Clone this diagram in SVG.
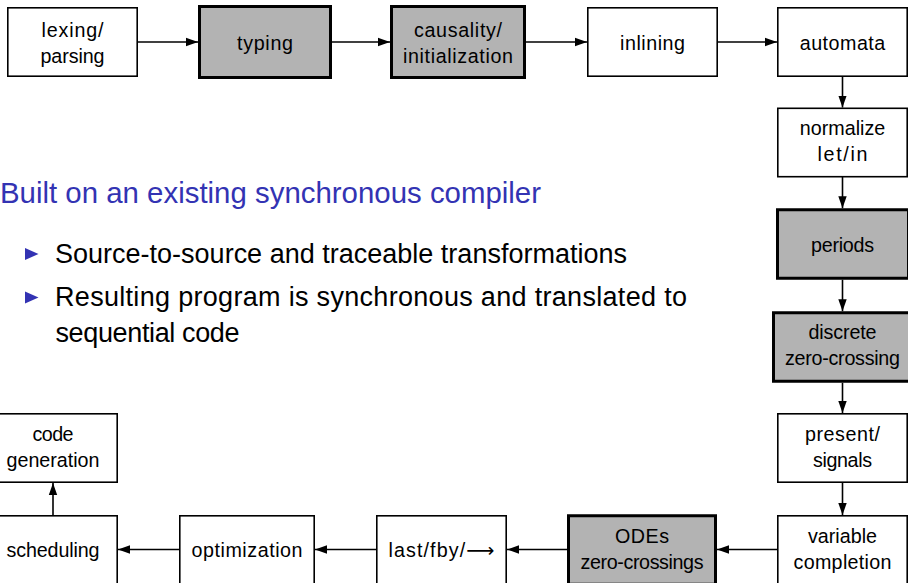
<svg xmlns="http://www.w3.org/2000/svg" width="908" height="583" viewBox="0 0 908 583">
  <defs>
    <style>
      .box { fill: #ffffff; stroke: #000000; stroke-width: 1.6; }
      .pass { fill: #b3b3b3; stroke: #000000; stroke-width: 3; }
      .lbl { font-family: "Liberation Sans", Arial, sans-serif; font-size: 19.7px; fill: #000000; text-anchor: middle; }
      .sym { font-family: "DejaVu Sans", sans-serif; font-size: 19.7px; }
      .edge { stroke: #000000; stroke-width: 1.6; fill: none; marker-end: url(#head); }
      .head { font-family: "Liberation Sans", Arial, sans-serif; font-size: 29.4px; fill: #3333b3; }
      .item { font-family: "Liberation Sans", Arial, sans-serif; font-size: 27px; fill: #000000; }
      .bullet { fill: #3333b3; }
    </style>
    <marker id="head" markerUnits="userSpaceOnUse" markerWidth="13" markerHeight="10" refX="12" refY="5" orient="auto">
      <path d="M0,0.8 L12,5 L0,9.2 Z" fill="#000000"/>
    </marker>
  </defs>

  <!-- compiler passes -->
  <g id="lexing">
    <rect class="box" x="7.8" y="7.8" width="129.4" height="68.4"/>
    <text class="lbl" x="72.5" y="37" textLength="62">lexing/</text>
    <text class="lbl" x="72.5" y="63" textLength="64">parsing</text>
  </g>
  <g id="typing">
    <rect class="pass" x="199.5" y="6.5" width="131" height="71"/>
    <text class="lbl" x="265" y="49.5" textLength="56">typing</text>
  </g>
  <g id="causality">
    <rect class="pass" x="391.5" y="6.5" width="133" height="71"/>
    <text class="lbl" x="458" y="37" textLength="88">causality/</text>
    <text class="lbl" x="458" y="63" textLength="110">initialization</text>
  </g>
  <g id="inlining">
    <rect class="box" x="587.8" y="7.8" width="129.4" height="68.4"/>
    <text class="lbl" x="652.5" y="49.5" textLength="65">inlining</text>
  </g>
  <g id="automata">
    <rect class="box" x="777.8" y="7.8" width="129.4" height="68.4"/>
    <text class="lbl" x="842.5" y="49.5" textLength="85.5">automata</text>
  </g>
  <g id="normalize">
    <rect class="box" x="777.8" y="108.3" width="129.4" height="68.4"/>
    <text class="lbl" x="842.5" y="135" textLength="85.5">normalize</text>
    <text class="lbl" x="842.5" y="161" textLength="50">let/in</text>
  </g>
  <g id="periods">
    <rect class="pass" x="777.5" y="209.75" width="131" height="68.5"/>
    <text class="lbl" x="842.5" y="251.5" textLength="63">periods</text>
  </g>
  <g id="discrete">
    <rect class="pass" x="773.5" y="312.75" width="138" height="68.5"/>
    <text class="lbl" x="842.5" y="339" textLength="68">discrete</text>
    <text class="lbl" x="842.5" y="365" textLength="115">zero-crossing</text>
  </g>
  <g id="present">
    <rect class="box" x="777.8" y="413.8" width="129.4" height="68.4"/>
    <text class="lbl" x="842.5" y="441" textLength="75">present/</text>
    <text class="lbl" x="842.5" y="467" textLength="59">signals</text>
  </g>
  <g id="variable">
    <rect class="box" x="777.8" y="515.8" width="129.4" height="68.4"/>
    <text class="lbl" x="842.5" y="543" textLength="69">variable</text>
    <text class="lbl" x="842.5" y="569" textLength="98">completion</text>
  </g>
  <g id="odes">
    <rect class="pass" x="568.5" y="515.75" width="147" height="68.5"/>
    <text class="lbl" x="642" y="543" textLength="54">ODEs</text>
    <text class="lbl" x="642" y="569" textLength="123">zero-crossings</text>
  </g>
  <g id="last">
    <rect class="box" x="376.8" y="515.8" width="129.4" height="68.4"/>
    <text class="lbl" x="441.5" y="556.5" textLength="106">last/fby/<tspan class="sym">⟶</tspan></text>
  </g>
  <g id="optimization">
    <rect class="box" x="179.8" y="515.8" width="134.4" height="68.4"/>
    <text class="lbl" x="247" y="556.5" textLength="111">optimization</text>
  </g>
  <g id="scheduling">
    <rect class="box" x="-11.2" y="515.8" width="128.4" height="68.4"/>
    <text class="lbl" x="53" y="556.5" textLength="93">scheduling</text>
  </g>
  <g id="codegen">
    <rect class="box" x="-11.2" y="413.8" width="128.4" height="68.4"/>
    <text class="lbl" x="53" y="441" textLength="41">code</text>
    <text class="lbl" x="53" y="467" textLength="93">generation</text>
  </g>

  <!-- pass ordering -->
  <g id="edges">
    <line class="edge" x1="137.2" y1="42" x2="198" y2="42"/>
    <line class="edge" x1="332" y1="42" x2="390" y2="42"/>
    <line class="edge" x1="526" y1="42" x2="587" y2="42"/>
    <line class="edge" x1="717.2" y1="42" x2="777" y2="42"/>
    <line class="edge" x1="842.5" y1="76.2" x2="842.5" y2="107.5"/>
    <line class="edge" x1="842.5" y1="176.7" x2="842.5" y2="208.25"/>
    <line class="edge" x1="842.5" y1="279.75" x2="842.5" y2="311.25"/>
    <line class="edge" x1="842.5" y1="382.75" x2="842.5" y2="413"/>
    <line class="edge" x1="842.5" y1="482.2" x2="842.5" y2="515"/>
    <line class="edge" x1="777.8" y1="549.5" x2="717" y2="549.5"/>
    <line class="edge" x1="567" y1="549.5" x2="507" y2="549.5"/>
    <line class="edge" x1="376.8" y1="549.5" x2="315" y2="549.5"/>
    <line class="edge" x1="179.8" y1="549.5" x2="118" y2="549.5"/>
    <line class="edge" x1="53" y1="515.8" x2="53" y2="483"/>
  </g>

  <!-- notes -->
  <text class="head" x="0" y="203" textLength="541">Built on an existing synchronous compiler</text>
  <path class="bullet" d="M25,248 L38.5,254 L25,260 Z"/>
  <text class="item" x="55" y="262.7" textLength="572">Source-to-source and traceable transformations</text>
  <path class="bullet" d="M25,291.5 L38.5,297.5 L25,303.5 Z"/>
  <text class="item" x="55" y="306" textLength="632">Resulting program is synchronous and translated to</text>
  <text class="item" x="55.5" y="341.5" textLength="184">sequential code</text>
</svg>
